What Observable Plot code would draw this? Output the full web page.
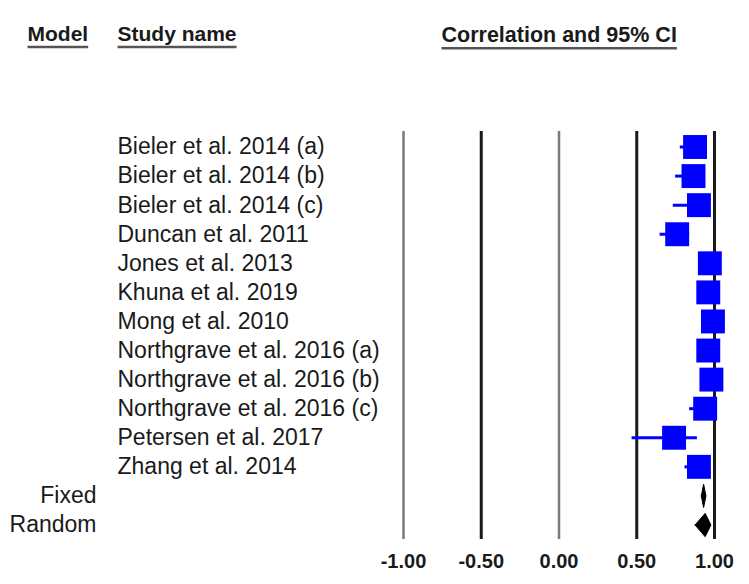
<!DOCTYPE html>
<html>
<head>
<meta charset="utf-8">
<script src="https://cdn.jsdelivr.net/npm/d3@7"></script>
<script src="https://cdn.jsdelivr.net/npm/@observablehq/plot@0.6"></script>
<style>
  html, body { margin: 0; padding: 0; background: #fff; }
  #chart svg { display: block; font-family: "Liberation Sans", Arial, sans-serif; }
</style>
</head>
<body>
<div id="chart"></div>
<script>
// ---- Data ----
const studies = [
  "Bieler et al. 2014 (a)",
  "Bieler et al. 2014 (b)",
  "Bieler et al. 2014 (c)",
  "Duncan et al. 2011",
  "Jones et al. 2013",
  "Khuna et al. 2019",
  "Mong et al. 2010",
  "Northgrave et al. 2016 (a)",
  "Northgrave et al. 2016 (b)",
  "Northgrave et al. 2016 (c)",
  "Petersen et al. 2017",
  "Zhang et al. 2014"
];
const correlations = [0.875, 0.865, 0.90, 0.76, 0.97, 0.96, 0.99, 0.96, 0.98, 0.94, 0.74, 0.90];
const lowerCI      = [0.78, 0.75, 0.735, 0.65, 0.93, 0.92, 0.97, 0.91, 0.95, 0.84, 0.47, 0.81];
const upperCI      = [0.93, 0.93, 0.96, 0.84, 0.99, 0.98, 1.00, 0.98, 0.99, 0.97, 0.89, 0.95];

const models      = ["Fixed", "Random"];
const modelEst    = [0.93, 0.94];
const modelLower  = [0.915, 0.875];
const modelUpper  = [0.945, 0.977];

const tickValues = [-1, -0.5, 0, 0.5, 1];
const tickLabels = ["-1.00", "-0.50", "0.00", "0.50", "1.00"];
const headers = ["Model", "Study name", "Correlation and 95% CI"];

// ---- Tables built from the arrays ----
const studyRows = studies.map((name, i) => ({
  name, row: i, est: correlations[i], lo: lowerCI[i], hi: upperCI[i]
}));
const modelRows = models.map((name, i) => ({
  name, row: studies.length + i, est: modelEst[i], lo: modelLower[i], hi: modelUpper[i]
}));
const halfH = 0.4; // diamond half height in row units (style)
const diamondPts = modelRows.flatMap(d => [
  {name: d.name, x: d.lo,  y: d.row},
  {name: d.name, x: d.est, y: d.row - halfH},
  {name: d.name, x: d.hi,  y: d.row},
  {name: d.name, x: d.est, y: d.row + halfH},
  {name: d.name, x: d.lo,  y: d.row}
]);
const nRows = studies.length + models.length;

const BLUE = "#0000ff";
const TXT = "#1a1a1a";
const lightRules = tickValues.filter((v, i) => i === 0 || i === 2);
const darkRules  = tickValues.filter((v, i) => !(i === 0 || i === 2));

const chart = Plot.plot({
  width: 749,
  height: 584,
  marginTop: 131,
  marginBottom: 45,
  marginLeft: 0,
  marginRight: 0,
  style: {background: "#fff", color: TXT, fontFamily: "Liberation Sans, Arial, sans-serif"},
  x: {domain: [-1, 1], range: [403, 714], axis: null},
  y: {domain: [0, nRows - 1], range: [146.5, 524.5], axis: null},
  marks: [
    Plot.ruleX(lightRules, {stroke: "#7a7a7a", strokeWidth: 2.5}),
    Plot.ruleX(darkRules, {stroke: "#1a1a1a", strokeWidth: 3}),
    Plot.axisX(tickValues, {
      anchor: "bottom", tickSize: 0, tickPadding: 14,
      tickFormat: d => tickLabels[tickValues.indexOf(d)],
      fontSize: 20, fontWeight: "bold", fill: TXT
    }),
    // CI whiskers
    Plot.ruleY(studyRows, {y: "row", x1: "lo", x2: "hi", stroke: BLUE, strokeWidth: 3}),
    // effect boxes
    Plot.dot(studyRows, {x: "est", y: "row", symbol: "square", r: 13.5, fill: BLUE, stroke: null}),
    // summary diamonds
    Plot.line(diamondPts, {x: "x", y: "y", z: "name", fill: "#000", stroke: "#000", strokeWidth: 1}),
    // study names
    Plot.text(studyRows, {y: "row", text: "name", frameAnchor: "left", dx: 117, textAnchor: "start", fontSize: 23, fill: TXT}),
    // model labels
    Plot.text(modelRows, {y: "row", text: "name", frameAnchor: "left", dx: 96, textAnchor: "end", fontSize: 23, fill: TXT}),
    // headers
    Plot.text([headers[0]], {text: d => d, frameAnchor: "top-left", dx: 27, dy: -105, textAnchor: "start", fontSize: 21, fontWeight: "bold", fill: TXT}),
    Plot.text([headers[1]], {text: d => d, frameAnchor: "top-left", dx: 117, dy: -105, textAnchor: "start", fontSize: 21, fontWeight: "bold", fill: TXT}),
    Plot.text([headers[2]], {text: d => d, frameAnchor: "top-left", dx: 441, dy: -105, textAnchor: "start", fontSize: 21.5, fontWeight: "bold", fill: TXT})
  ]
});

document.getElementById("chart").appendChild(chart);

// underline the header texts (positions derived from the rendered text boxes)
const svg = d3.select(chart);
svg.selectAll("text").each(function() {
  if (headers.includes(this.textContent)) {
    const b = this.getBBox();
    const ctm = this.getCTM();
    const tx = ctm ? ctm.e : 0, ty = ctm ? ctm.f : 0;
    svg.append("line")
      .attr("x1", b.x + tx).attr("x2", b.x + tx + b.width)
      .attr("y1", b.y + ty + b.height + 1.5).attr("y2", b.y + ty + b.height + 1.5)
      .attr("stroke", "#555").attr("stroke-width", 2.5);
  }
});
</script>
</body>
</html>
